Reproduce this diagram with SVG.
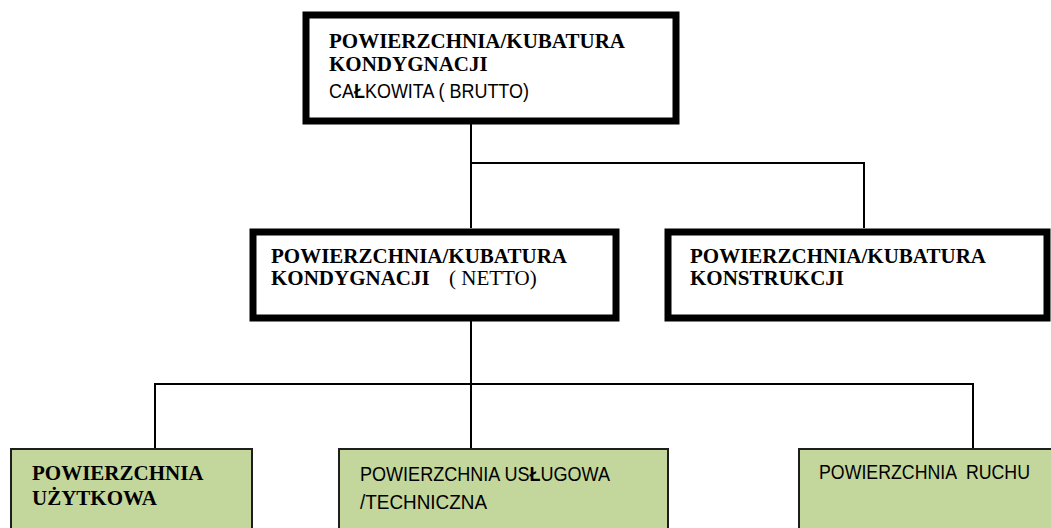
<svg xmlns="http://www.w3.org/2000/svg" width="1051" height="528" viewBox="0 0 1051 528">
  <style>
    .thick { fill: #ffffff; stroke: #000000; stroke-width: 7; }
    .green { fill: #c3d69b; stroke: #1e1e1e; stroke-width: 2; }
    .link { fill: none; stroke: #000000; stroke-width: 2; }
    .serifB { font-family: "Liberation Serif", "Times New Roman", serif; font-weight: bold; font-size: 21px; fill: #000000; }
    .serif { font-family: "Liberation Serif", "Times New Roman", serif; font-size: 21px; fill: #000000; }
    .sans { font-family: "Liberation Sans", Arial, sans-serif; font-size: 20px; fill: #000000; }
    .b { font-weight: bold; }
  </style>

  <rect width="1051" height="528" fill="#ffffff"/>

  <!-- connectors -->
  <g id="connectors">
    <path class="link" d="M471,124 V228"/>
    <path class="link" d="M471,163 H864 V228"/>
    <path class="link" d="M471,321 V448"/>
    <path class="link" d="M155,448 V384 H973 V448"/>
  </g>

  <!-- top level: gross -->
  <g id="brutto">
    <rect class="thick" x="306" y="15" width="370" height="106"/>
    <text class="serifB" x="329" y="48">POWIERZCHNIA/KUBATURA</text>
    <text class="serifB" x="329" y="71">KONDYGNACJI</text>
    <text class="sans" x="329" y="98" textLength="200" lengthAdjust="spacingAndGlyphs">CA<tspan class="b">Ł</tspan>KOWITA ( BRUTTO)</text>
  </g>

  <!-- second level: net -->
  <g id="netto">
    <rect class="thick" x="253" y="232" width="363" height="86"/>
    <text class="serifB" x="271" y="263">POWIERZCHNIA/KUBATURA</text>
    <text class="serifB" x="271" y="285">KONDYGNACJI</text>
    <text class="serif" x="449" y="285">( NETTO)</text>
  </g>

  <!-- second level: structure -->
  <g id="konstrukcja">
    <rect class="thick" x="668" y="232" width="379" height="86"/>
    <text class="serifB" x="690" y="263">POWIERZCHNIA/KUBATURA</text>
    <text class="serifB" x="690" y="285">KONSTRUKCJI</text>
  </g>

  <!-- third level -->
  <g id="uzytkowa">
    <rect class="green" x="11" y="449" width="241" height="100"/>
    <text class="serifB" x="32" y="480">POWIERZCHNIA</text>
    <text class="serifB" x="32" y="505">UŻYTKOWA</text>
  </g>

  <g id="uslugowa">
    <rect class="green" x="339" y="449" width="329" height="100"/>
    <text class="sans" x="360" y="481" textLength="250" lengthAdjust="spacingAndGlyphs">POWIERZCHNIA US<tspan class="b">Ł</tspan>UGOWA</text>
    <text class="sans" x="360" y="509" textLength="127" lengthAdjust="spacingAndGlyphs">/TECHNICZNA</text>
  </g>

  <g id="ruch">
    <rect class="green" x="799" y="449" width="254" height="100"/>
    <text class="sans" x="819" y="479" textLength="211" lengthAdjust="spacingAndGlyphs" xml:space="preserve">POWIERZCHNIA  RUCHU</text>
  </g>
</svg>
